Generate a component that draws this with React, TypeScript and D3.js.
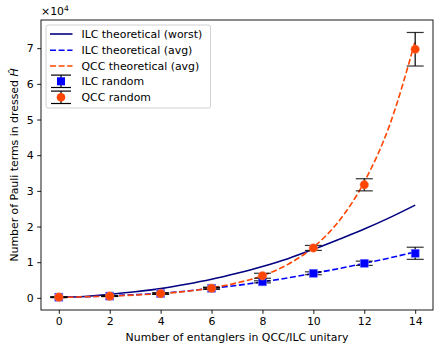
import * as d3 from "d3";
import { useEffect, useRef } from "react";

const W = 440;
const H = 352;

// theory curves, sampled at every entangler count 0..14 (units of 1e4)
const theoryX = [0, 1, 2, 3, 4, 5, 6, 7, 8, 9, 10, 11, 12, 13, 14];
const ilcWorst = [0.01, 0.04, 0.1, 0.17, 0.26, 0.38, 0.52, 0.69, 0.88, 1.1, 1.36, 1.64, 1.93, 2.25, 2.6];
const ilcAvg = [0.02, 0.03, 0.06, 0.09, 0.13, 0.19, 0.27, 0.35, 0.45, 0.56, 0.69, 0.82, 0.97, 1.12, 1.29];
const qccAvg = [0.01, 0.03, 0.05, 0.08, 0.12, 0.18, 0.28, 0.42, 0.62, 0.94, 1.42, 2.15, 3.25, 4.85, 7.2];

// random samples: mean and error bar (units of 1e4)
const randX = [0, 2, 4, 6, 8, 10, 12, 14];
const ilcRand = [0.02, 0.05, 0.12, 0.27, 0.45, 0.69, 0.97, 1.25];
const ilcErr = [0.01, 0.01, 0.02, 0.02, 0.03, 0.04, 0.06, 0.17];
const qccRand = [0.02, 0.05, 0.12, 0.27, 0.62, 1.4, 3.17, 6.97];
const qccErr = [0.01, 0.01, 0.02, 0.03, 0.07, 0.07, 0.17, 0.47];

const xTicks = [0, 2, 4, 6, 8, 10, 12, 14];
const yTicks = [0, 1, 2, 3, 4, 5, 6, 7];

const COLORS = {
  worst: "#000080",
  ilc: "#0000ff",
  qcc: "#ff4500",
  text: "#000000",
};

const FONT = "DejaVu Sans, sans-serif";
const FS = 10.9;

const App = () => {
  const svgRef = useRef(null);

  useEffect(() => {
    const svg = d3.select(svgRef.current);
    svg.selectAll("*").remove();

    const left = 41;
    const right = 433;
    const top = 20;
    const bottom = 310;

    const x = d3.scaleLinear().domain([-0.7, 14.7]).range([left, right]);
    const y = d3.scaleLinear().domain([-0.34, 7.79]).range([bottom, top]);

    svg.append("rect").attr("width", W).attr("height", H).attr("fill", "#fff");

    // axes
    const xAxis = d3.axisBottom(x).tickValues(xTicks).tickSize(3.8).tickPadding(3.6).tickSizeOuter(0);
    const yAxis = d3.axisLeft(y).tickValues(yTicks).tickSize(3.8).tickPadding(3.6).tickSizeOuter(0);

    const gx = svg.append("g").attr("transform", `translate(0,${bottom})`).call(xAxis);
    const gy = svg.append("g").attr("transform", `translate(${left},0)`).call(yAxis);
    [gx, gy].forEach((g) => {
      g.select(".domain").remove();
      g.selectAll("text").attr("font-family", FONT).attr("font-size", FS).attr("fill", COLORS.text);
      g.selectAll("line").attr("stroke", COLORS.text).attr("stroke-width", 0.9);
    });

    const clip = svg.append("clipPath").attr("id", "plotclip");
    clip.append("rect").attr("x", left).attr("y", top).attr("width", right - left).attr("height", bottom - top);
    const plot = svg.append("g").attr("clip-path", "url(#plotclip)");

    const line = (vals) =>
      d3
        .line()
        .x((_, i) => x(theoryX[i]))
        .y((d) => y(d))
        .curve(d3.curveMonotoneX)(vals);

    plot.append("path").attr("d", line(ilcWorst)).attr("fill", "none").attr("stroke", COLORS.worst).attr("stroke-width", 1.6);
    plot.append("path").attr("d", line(ilcAvg)).attr("fill", "none").attr("stroke", COLORS.ilc).attr("stroke-width", 1.6).attr("stroke-dasharray", "6,2.6");
    plot.append("path").attr("d", line(qccAvg)).attr("fill", "none").attr("stroke", COLORS.qcc).attr("stroke-width", 1.6).attr("stroke-dasharray", "6,2.6");

    const cap = 8.5;
    const errorBars = (vals, errs) => {
      vals.forEach((v, i) => {
        const cx = x(randX[i]);
        const y0 = y(v - errs[i]);
        const y1 = y(v + errs[i]);
        plot.append("line").attr("x1", cx).attr("x2", cx).attr("y1", y0).attr("y2", y1).attr("stroke", "#000").attr("stroke-width", 1.2);
        [y0, y1].forEach((yy) =>
          plot.append("line").attr("x1", cx - cap).attr("x2", cx + cap).attr("y1", yy).attr("y2", yy).attr("stroke", "#000").attr("stroke-width", 1.2).attr("opacity", 0.8)
        );
      });
    };

    errorBars(ilcRand, ilcErr);
    ilcRand.forEach((v, i) => {
      plot.append("rect").attr("x", x(randX[i]) - 4).attr("y", y(v) - 4).attr("width", 8).attr("height", 8)
        .attr("fill", COLORS.ilc).attr("stroke", "#7777ff").attr("stroke-width", 0.6);
    });
    errorBars(qccRand, qccErr);
    qccRand.forEach((v, i) => {
      plot.append("circle").attr("cx", x(randX[i])).attr("cy", y(v)).attr("r", 4.3)
        .attr("fill", COLORS.qcc).attr("stroke", "#ff8866").attr("stroke-width", 0.5);
    });

    // frame
    svg.append("rect").attr("x", left).attr("y", top).attr("width", right - left).attr("height", bottom - top)
      .attr("fill", "none").attr("stroke", "#000").attr("stroke-width", 0.9);

    // offset text
    const off = svg.append("text").attr("x", left).attr("y", 15).attr("font-family", FONT).attr("font-size", FS).attr("fill", COLORS.text);
    off.append("tspan").text("×10");
    off.append("tspan").attr("font-size", 7.6).attr("dy", -4.5).text("4");

    // axis titles
    svg.append("text").attr("x", (left + right) / 2).attr("y", 341).attr("text-anchor", "middle")
      .attr("font-family", FONT).attr("font-size", FS).attr("fill", COLORS.text)
      .text("Number of entanglers in QCC/ILC unitary");

    const yl = svg.append("text").attr("transform", `translate(18,${(top + bottom) / 2}) rotate(-90)`)
      .attr("text-anchor", "middle").attr("font-family", FONT).attr("font-size", FS).attr("fill", COLORS.text);
    yl.append("tspan").text("Number of Pauli terms in dressed ");
    yl.append("tspan").attr("font-style", "italic").text("Ĥ");

    // legend
    const lg = svg.append("g");
    lg.append("rect").attr("x", 46).attr("y", 25).attr("width", 164.5).attr("height", 83).attr("rx", 2)
      .attr("fill", "#fff").attr("fill-opacity", 0.8).attr("stroke", "#cccccc").attr("stroke-width", 0.9);
    const items = [
      { label: "ILC theoretical (worst)", kind: "line", color: COLORS.worst, dash: null },
      { label: "ILC theoretical (avg)", kind: "line", color: COLORS.ilc, dash: "6,2.6" },
      { label: "QCC theoretical (avg)", kind: "line", color: COLORS.qcc, dash: "6,2.6" },
      { label: "ILC random", kind: "square", color: COLORS.ilc, dash: null },
      { label: "QCC random", kind: "circle", color: COLORS.qcc, dash: null },
    ];
    const rowY = [34, 50.3, 66, 81.3, 97.3];
    items.forEach((it, i) => {
      const yy = rowY[i];
      if (it.kind === "line") {
        const l = lg.append("line").attr("x1", 50).attr("x2", 72.5).attr("y1", yy).attr("y2", yy)
          .attr("stroke", it.color).attr("stroke-width", 1.6);
        if (it.dash) l.attr("stroke-dasharray", it.dash);
      } else {
        const cx = 61;
        const eh = 6.2;
        lg.append("line").attr("x1", cx).attr("x2", cx).attr("y1", yy - eh).attr("y2", yy + eh).attr("stroke", "#000").attr("stroke-width", 1.2);
        [yy - eh, yy + eh].forEach((c) =>
          lg.append("line").attr("x1", cx - 10).attr("x2", cx + 10).attr("y1", c).attr("y2", c).attr("stroke", "#000").attr("stroke-width", 1.2)
        );
        if (it.kind === "square") {
          lg.append("rect").attr("x", cx - 4).attr("y", yy - 4).attr("width", 8).attr("height", 8).attr("fill", it.color);
        } else {
          lg.append("circle").attr("cx", cx).attr("cy", yy).attr("r", 4.3).attr("fill", it.color);
        }
      }
      lg.append("text").attr("x", 81.5).attr("y", yy).attr("dy", "0.35em").attr("font-family", FONT)
        .attr("font-size", FS).attr("fill", COLORS.text).text(it.label);
    });
  }, []);

  return <svg ref={svgRef} width={W} height={H} style={{ display: "block", position: "absolute", left: 0, top: 0 }} />;
};

export default App;
